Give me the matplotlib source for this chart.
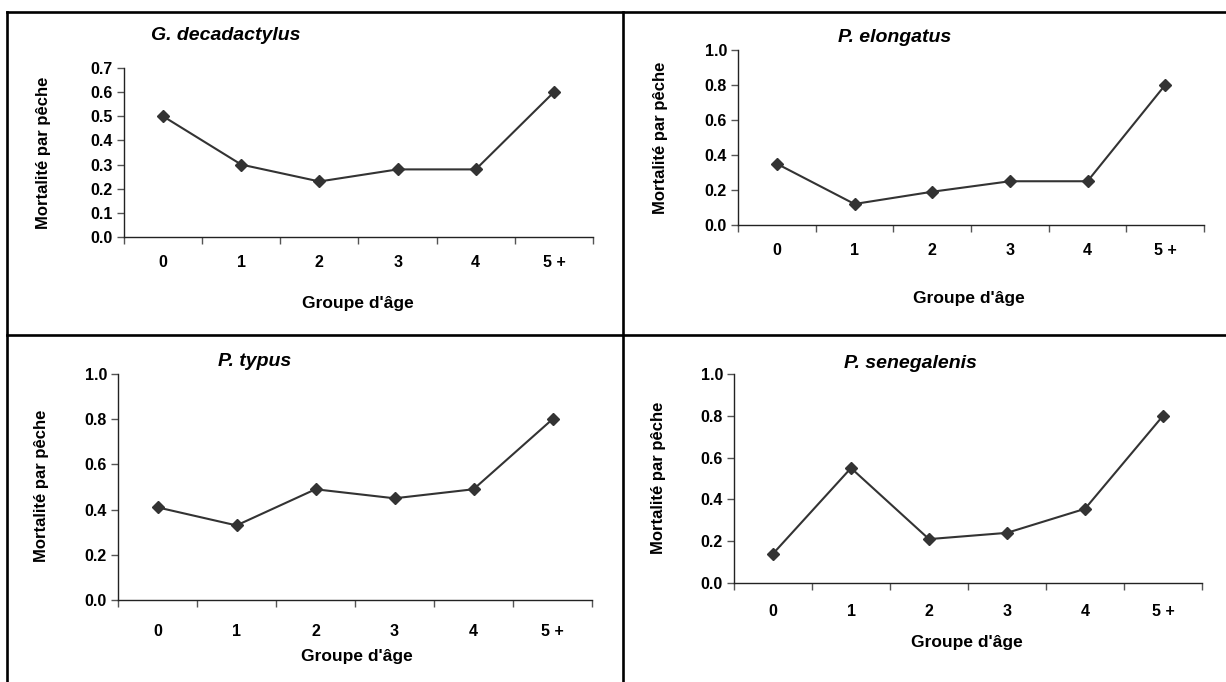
import matplotlib
matplotlib.use("Agg")
from matplotlib import pyplot as plt
from matplotlib.lines import Line2D

plt.rcParams['font.family'] = ['Liberation Sans', 'DejaVu Sans']

age_groups = ["0", "1", "2", "3", "4", "5 +"]
species = ["G. decadactylus", "P. elongatus", "P. typus", "P. senegalenis"]
mort_decadactylus = [0.50, 0.30, 0.23, 0.28, 0.28, 0.60]
mort_elongatus = [0.35, 0.12, 0.19, 0.25, 0.25, 0.80]
mort_typus = [0.41, 0.33, 0.49, 0.45, 0.49, 0.80]
mort_senegalenis = [0.14, 0.55, 0.21, 0.24, 0.355, 0.80]
series = [mort_decadactylus, mort_elongatus, mort_typus, mort_senegalenis]
y_ticks_small = [0.0, 0.1, 0.2, 0.3, 0.4, 0.5, 0.6, 0.7]
y_ticks_big = [0.0, 0.2, 0.4, 0.6, 0.8, 1.0]

W, H = 1226, 682
fig = plt.figure(figsize=(W / 100, H / 100), dpi=100)


def px(x, y):
    return x / W, 1 - y / H


# panel layouts in pixels: left, right, top(ymax), bottom(0)
boxes = [(124, 593, 68, 237), (738, 1204, 50, 225), (118, 592, 374, 600), (734, 1202, 374, 583)]
titles_xy = [(226, 35), (895, 38), (255, 361), (910, 363)]
ylabel_xy = [(44, 153), (661, 138), (42, 486), (658, 478)]
xlabel_xy = [(358, 303), (969, 298), (357, 656), (967, 642)]
xtick_pad = [13, 13, 17, 15]

dark = '#333333'

for i in range(4):
    l, r, t, b = boxes[i]
    ax = fig.add_axes([l / W, 1 - b / H, (r - l) / W, (b - t) / H])
    x = range(len(age_groups))
    ax.plot(x, series[i], color=dark, lw=1.5, marker='D', ms=6.5,
            markerfacecolor=dark, markeredgecolor=dark, clip_on=False)
    ax.set_xlim(-0.5, 5.5)
    ticks = y_ticks_small if i == 0 else y_ticks_big
    ax.set_ylim(0, ticks[-1])
    ax.set_yticks(ticks)
    ax.set_yticklabels([f"{v:.1f}" for v in ticks], fontsize=11.5, fontweight='bold')
    ax.set_xticks([k - 0.5 for k in range(7)])
    ax.set_xticklabels([])
    ax.set_xticks(list(x), minor=True)
    ax.set_xticklabels(age_groups, minor=True, fontsize=11.5, fontweight='bold')
    ax.tick_params(axis='x', which='minor', length=0, pad=xtick_pad[i])
    ax.tick_params(axis='both', which='major', length=5, width=1, color='#555555', direction='out')
    ax.tick_params(axis='y', pad=3)
    for s in ['top', 'right']:
        ax.spines[s].set_visible(False)
    for s in ['left', 'bottom']:
        ax.spines[s].set_color('#222222')
        ax.spines[s].set_linewidth(1)
    ax.patch.set_alpha(0)

    tx, ty = px(*titles_xy[i])
    fig.text(tx, ty, species[i], ha='center', va='center', fontsize=14,
             fontweight='bold', fontstyle='italic')
    lx, ly = px(*ylabel_xy[i])
    fig.text(lx, ly, "Mortalité par pêche", rotation=90, ha='center', va='center',
             fontsize=12, fontweight='bold')
    gx, gy = px(*xlabel_xy[i])
    fig.text(gx, gy, "Groupe d'âge", ha='center', va='center', fontsize=12.5,
             fontweight='bold')

# frame and dividers
lw = 1.9
for (x0, y0), (x1, y1) in [((7, 12), (W, 12)), ((7, 12), (7, H)),
                           ((623, 12), (623, H)), ((7, 335), (W, 335))]:
    a = px(x0, y0)
    c = px(x1, y1)
    fig.add_artist(Line2D([a[0], c[0]], [a[1], c[1]], color='black', lw=lw,
                          transform=fig.transFigure))

fig.savefig("out.png", dpi=100)
